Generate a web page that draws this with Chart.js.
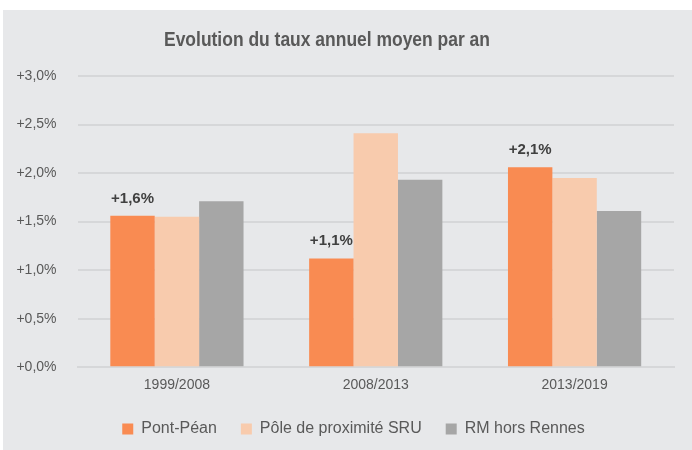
<!DOCTYPE html>
<html>
<head>
<meta charset="utf-8">
<script src="https://cdn.jsdelivr.net/npm/chart.js@4"></script>
<style>
  body { margin: 0; background: #ffffff; }
  #wrap { position: absolute; left: 3px; top: 10px; width: 689px; height: 440px; background: #e7e8ea; }
</style>
</head>
<body>
<div id="wrap"><canvas id="chart"></canvas></div>
<script>
// Données
const periodes = ["1999/2008", "2008/2013", "2013/2019"];
const pontPean = [1.56, 1.12, 2.06];
const poleSRU = [1.55, 2.41, 1.95];
const rmHorsRennes = [1.71, 1.93, 1.61];
const ticksY = [0, 0.5, 1, 1.5, 2, 2.5, 3];

function formatPct(v) {
  return "+" + v.toFixed(1).replace(".", ",") + "%";
}

// Titre (police étroite simulée par une mise à l'échelle horizontale)
const titrePlugin = {
  id: "titre",
  afterDraw(chart) {
    const ctx = chart.ctx;
    const texte = "Evolution du taux annuel moyen par an";
    ctx.save();
    ctx.font = "bold 20px 'Liberation Sans', Arial, sans-serif";
    ctx.fillStyle = "#595959";
    ctx.textAlign = "center";
    ctx.textBaseline = "alphabetic";
    const w = ctx.measureText(texte).width;
    ctx.translate(324, 36);
    ctx.scale(326 / w, 1);
    ctx.fillText(texte, 0, 0);
    ctx.restore();
  },
};

// Étiquettes au-dessus des barres Pont-Péan
const etiquettesPlugin = {
  id: "etiquettes",
  afterDatasetsDraw(chart) {
    const ctx = chart.ctx;
    const meta = chart.getDatasetMeta(0);
    ctx.save();
    ctx.font = "bold 15px 'Liberation Sans', Arial, sans-serif";
    ctx.fillStyle = "#404040";
    ctx.textAlign = "center";
    ctx.textBaseline = "alphabetic";
    meta.data.forEach((bar, i) => {
      ctx.fillText(formatPct(pontPean[i]), bar.x, bar.y - 13);
    });
    ctx.restore();
  },
};

// Décale la légende pour la centrer comme sur l'original
const decalageLegende = {
  id: "decalageLegende",
  afterLayout(chart) {
    chart.legend.left += 15;
    chart.legend.right += 15;
  },
};

const ctx = document.getElementById("chart").getContext("2d");
new Chart(ctx, {
  type: "bar",
  data: {
    labels: periodes,
    datasets: [
      { label: "Pont-Péan", data: pontPean, backgroundColor: "#f98b52" },
      { label: "Pôle de proximité SRU", data: poleSRU, backgroundColor: "#f8cbad" },
      { label: "RM hors Rennes", data: rmHorsRennes, backgroundColor: "#a6a6a6" },
    ],
  },
  options: {
    responsive: true,
    maintainAspectRatio: false,
    animation: false,
    categoryPercentage: 0.67,
    barPercentage: 1,
    layout: { padding: { top: 66, right: 18, left: 0, bottom: 3 } },
    scales: {
      x: {
        afterFit: (s) => { s.height = s.height - 7; },
        grid: { display: false, drawTicks: false },
        border: { display: true, color: "#d6d7d9", width: 2 },
        ticks: { color: "#595959", font: { size: 14, family: "'Liberation Sans', Arial, sans-serif" }, padding: 10 },
      },
      y: {
        min: 0,
        max: 3,
        afterFit: (s) => { s.width = 74.5; },
        afterBuildTicks: (s) => { s.ticks = ticksY.map((v) => ({ value: v })); },
        grid: { color: "#d6d7d9", lineWidth: 2, drawTicks: false },
        border: { display: false },
        ticks: {
          color: "#595959",
          font: { size: 14, family: "'Liberation Sans', Arial, sans-serif" },
          padding: 21,
          callback: (v) => formatPct(v),
        },
      },
    },
    plugins: {
      legend: {
        position: "bottom",
        labels: {
          boxWidth: 11,
          boxHeight: 11,
          padding: 24,
          color: "#595959",
          font: { size: 16, family: "'Liberation Sans', Arial, sans-serif" },
        },
      },
      tooltip: { enabled: false },
    },
  },
  plugins: [titrePlugin, etiquettesPlugin, decalageLegende],
});
</script>
</body>
</html>
